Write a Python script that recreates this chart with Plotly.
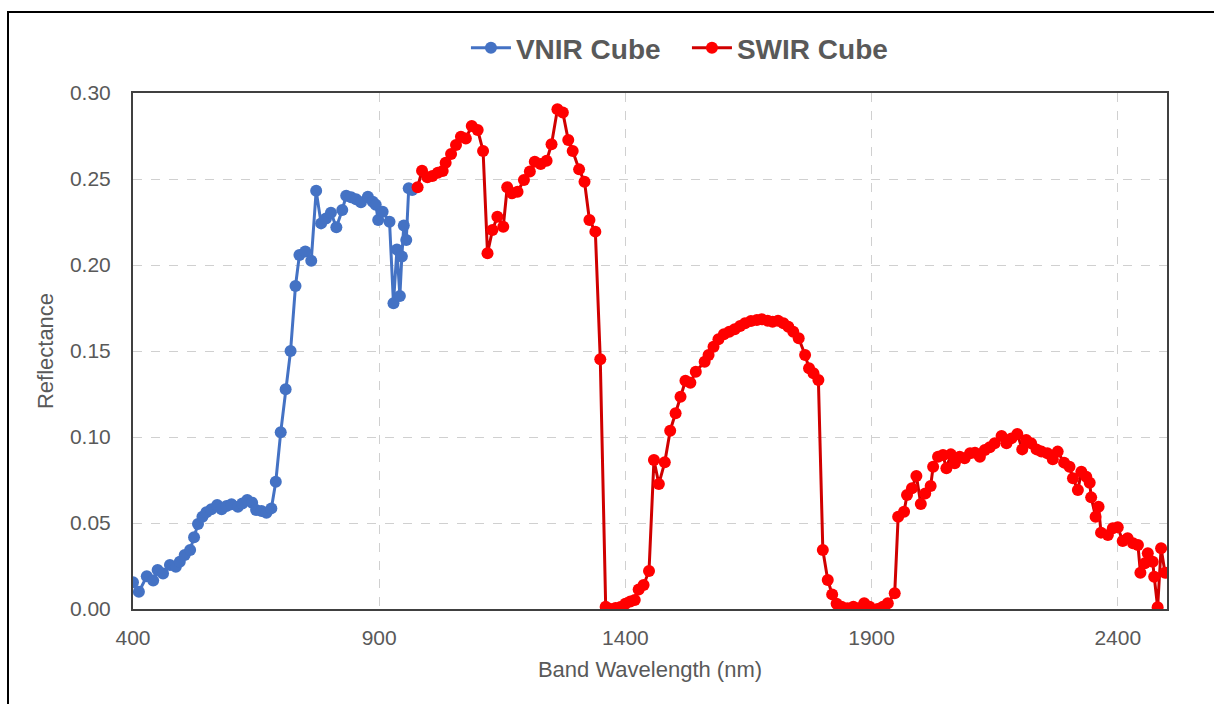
import plotly.graph_objects as go

# VNIR cube spectrum (wavelength nm, reflectance)
vnir_wl = [400, 412, 428, 441, 450, 461, 475, 487, 495, 505, 516, 524, 532, 541, 549,
           559, 571, 580, 590, 600, 613, 622, 632, 642, 650, 661, 671, 681, 690, 700,
           710, 720, 730, 738, 750, 762, 772, 782, 792, 802, 813, 825, 833, 843, 853,
           863, 877, 887, 893, 898, 907, 921, 929, 936, 942, 946, 950, 955, 960, 967]
vnir_refl = [0.0155, 0.0100, 0.0190, 0.0165, 0.0227, 0.0207, 0.0256, 0.0246, 0.0275, 0.0314,
             0.0343, 0.0417, 0.0494, 0.0537, 0.0562, 0.0580, 0.0605, 0.0580, 0.0599, 0.0609,
             0.0595, 0.0614, 0.0634, 0.0618, 0.0576, 0.0570, 0.0560, 0.0585, 0.0740, 0.1027,
             0.1277, 0.1500, 0.1878, 0.2058, 0.2078, 0.2025, 0.2432, 0.2242, 0.2271, 0.2304,
             0.2219, 0.2320, 0.2403, 0.2394, 0.2382, 0.2365, 0.2397, 0.2368, 0.2350, 0.2262,
             0.2310, 0.2252, 0.1777, 0.2090, 0.1820, 0.2050, 0.2230, 0.2145, 0.2446, 0.2436]

# SWIR cube spectrum (wavelength nm, reflectance)
swir_wl = [978, 987, 998, 1008, 1019, 1029, 1035, 1046, 1056, 1066, 1076, 1088, 1100, 1111,
           1120, 1130, 1140, 1152, 1160, 1170, 1181, 1194, 1206, 1216, 1228, 1240, 1250, 1262,
           1273, 1284, 1293, 1306, 1317, 1327, 1339, 1349, 1360, 1370, 1380, 1390, 1400, 1410,
           1419, 1427, 1437, 1448, 1458, 1468, 1480, 1491, 1502, 1512, 1522, 1532, 1543, 1561,
           1569, 1579, 1589, 1600, 1611, 1622, 1633, 1643, 1655, 1667, 1677, 1689, 1699, 1710,
           1721, 1731, 1741, 1752, 1765, 1773, 1782, 1792, 1801, 1811, 1820, 1829, 1839, 1851,
           1863, 1874, 1885, 1896, 1912, 1923, 1933, 1947, 1954, 1966, 1972, 1982, 1991, 2000,
           2009, 2020, 2025, 2035, 2045, 2052, 2061, 2069, 2079, 2089, 2100, 2110, 2120, 2130,
           2140, 2150, 2164, 2174, 2184, 2196, 2206, 2214, 2224, 2235, 2245, 2257, 2268, 2278,
           2291, 2302, 2309, 2319, 2326, 2336, 2343, 2346, 2355, 2361, 2366, 2380, 2390, 2400,
           2410, 2420, 2431, 2441, 2446, 2455, 2461, 2471, 2474, 2481, 2488, 2496]
swir_refl = [0.2452, 0.2548, 0.2510, 0.2517, 0.2537, 0.2547, 0.2595, 0.2645, 0.2698, 0.2746,
             0.2736, 0.2808, 0.2785, 0.2663, 0.2068, 0.2203, 0.2281, 0.2223, 0.2452, 0.2417,
             0.2426, 0.2494, 0.2543, 0.2601, 0.2587, 0.2606, 0.2702, 0.2905, 0.2886, 0.2727,
             0.2663, 0.2556, 0.2484, 0.2262, 0.2194, 0.1452, 0.0013, 0.0000, 0.0006, 0.0012,
             0.0030, 0.0043, 0.0052, 0.0114, 0.0140, 0.0221, 0.0866, 0.0727, 0.0853, 0.1037,
             0.1138, 0.1234, 0.1327, 0.1316, 0.1380, 0.1438, 0.1477, 0.1525, 0.1568, 0.1597,
             0.1612, 0.1626, 0.1645, 0.1661, 0.1674, 0.1680, 0.1684, 0.1676, 0.1670, 0.1676,
             0.1661, 0.1641, 0.1612, 0.1574, 0.1477, 0.1400, 0.1370, 0.1331, 0.0343, 0.0169,
             0.0085, 0.0030, 0.0013, 0.0004, 0.0013, 0.0004, 0.0033, 0.0013, 0.0000, 0.0013,
             0.0033, 0.0091, 0.0537, 0.0566, 0.0663, 0.0702, 0.0773, 0.0610, 0.0672, 0.0715,
             0.0827, 0.0885, 0.0895, 0.0818, 0.0899, 0.0847, 0.0885, 0.0876, 0.0905, 0.0909,
             0.0885, 0.0924, 0.0940, 0.0963, 0.1006, 0.0963, 0.0992, 0.1017, 0.0928, 0.0983,
             0.0963, 0.0928, 0.0915, 0.0905, 0.0870, 0.0915, 0.0851, 0.0827, 0.0760, 0.0692,
             0.0798, 0.0769, 0.0734, 0.0649, 0.0537, 0.0595, 0.0444, 0.0430, 0.0469, 0.0475,
             0.0395, 0.0411, 0.0382, 0.0372, 0.0211, 0.0266, 0.0324, 0.0275, 0.0188, 0.0010,
             0.0353, 0.0211]

x_ticks = [400, 900, 1400, 1900, 2400]
y_ticks = [0.00, 0.05, 0.10, 0.15, 0.20, 0.25, 0.30]

FONT = "Arial, Liberation Sans, sans-serif"
TEXT = "#595959"

fig = go.Figure()
fig.add_trace(go.Scatter(
    x=vnir_wl, y=vnir_refl, mode="lines+markers", name="VNIR Cube",
    line=dict(color="#4472C4", width=3),
    marker=dict(color="#4472C4", size=12),
))
fig.add_trace(go.Scatter(
    x=swir_wl, y=swir_refl, mode="lines+markers", name="SWIR Cube",
    line=dict(color="#D00000", width=3),
    marker=dict(color="#FF0000", size=12),
))

fig.update_layout(
    width=1214, height=704,
    margin=dict(l=133, r=47, t=93, b=95),
    paper_bgcolor="white", plot_bgcolor="white",
    font=dict(family=FONT, color=TEXT),
    showlegend=True,
    legend=dict(
        orientation="h", x=0.322, xanchor="left", y=1.087, yanchor="middle",
        font=dict(size=28, color=TEXT, family=FONT, weight="bold"),
        itemwidth=40, entrywidth=166, bgcolor="rgba(0,0,0,0)",
    ),
    xaxis=dict(
        range=[400, 2500], tickvals=x_ticks,
        ticktext=[str(v) for v in x_ticks],
        showgrid=True, gridcolor="#D0D0D0", griddash="dash", gridwidth=1,
        showline=True, linecolor="#404040", linewidth=2, mirror=True,
        ticks="", ticklabelstandoff=9,
        tickfont=dict(size=21, color=TEXT),
        title=dict(text="Band Wavelength (nm)", font=dict(size=22, color=TEXT), standoff=13),
        zeroline=False,
    ),
    yaxis=dict(
        range=[0, 0.30], tickvals=y_ticks,
        ticktext=[f"{v:.2f}" for v in y_ticks],
        showgrid=True, gridcolor="#D0D0D0", griddash="dash", gridwidth=1,
        showline=True, linecolor="#404040", linewidth=2, mirror=True,
        ticks="", ticklabelstandoff=16,
        tickfont=dict(size=21, color=TEXT),
        title=dict(text="Reflectance", font=dict(size=22, color=TEXT), standoff=10),
        zeroline=False,
    ),
)

# outer chart frame
fig.add_shape(
    type="rect", xref="paper", yref="paper",
    x0=(8 - 133) / 1034, x1=(1225 - 133) / 1034,
    y0=(609 - 715) / 516, y1=(609 - 12) / 516,
    line=dict(color="black", width=2), fillcolor="rgba(0,0,0,0)", layer="below",
)

fig.write_html("out.html")
